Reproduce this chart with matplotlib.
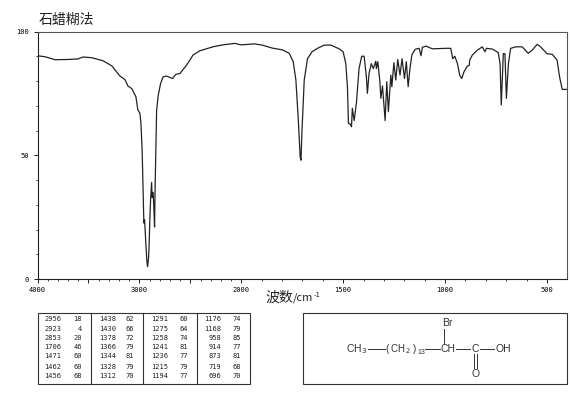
import matplotlib
matplotlib.use('Agg')
import matplotlib.pyplot as plt
from matplotlib.patches import Rectangle
import numpy as np

plt.rcParams['font.family'] = ['Noto Sans CJK SC', 'DejaVu Sans']

# spectrum
wavenumber = [4000, 3926, 3828, 3701, 3603, 3554, 3466, 3358, 3270, 3191, 3142, 3113, 3074, 3034, 3015, 2995,
              2985, 2973, 2969, 2956, 2949, 2943, 2936, 2926, 2920, 2910, 2904, 2897, 2890, 2880, 2875, 2865,
              2858, 2851, 2846, 2838, 2831, 2816, 2792, 2767, 2733, 2675, 2642, 2603, 2537, 2473, 2407, 2279,
              2181, 2063, 2003, 1936, 1897, 1848, 1799, 1765, 1745, 1732, 1720, 1711, 1707, 1702, 1691, 1675,
              1653, 1626, 1593, 1560, 1520, 1500, 1487, 1479, 1474, 1466, 1459, 1455, 1446, 1435, 1422, 1409,
              1397, 1386, 1381, 1373, 1362, 1352, 1340, 1337, 1330, 1320, 1315, 1307, 1294, 1286, 1278, 1266,
              1261, 1251, 1242, 1232, 1221, 1211, 1199, 1190, 1181, 1173, 1163, 1147, 1127, 1118, 1111, 1094,
              1062, 997, 972, 962, 952, 939, 928, 918, 907, 891, 881, 879, 866, 841, 817, 804,
              797, 768, 739, 730, 724, 714, 706, 699, 689, 678, 653, 621, 592, 572, 548, 531,
              499, 474, 450, 438, 425, 400]
transmittance = [90.2, 89.8, 88.6, 88.7, 88.9, 89.7, 89.4, 88.2, 86.1, 82, 80.6, 78, 76.9, 73.6, 68.3, 67,
                 63, 52, 45, 22.6, 24, 19, 13.7, 7, 5, 8.4, 14.4, 24.6, 32, 39, 33, 35,
                 29, 21, 36, 52, 68, 74, 79, 81.7, 82, 81, 82.7, 83, 86.4, 90.5, 92.2, 93.8,
                 94.6, 95.2, 94.6, 95, 94.5, 93.3, 92.6, 91.2, 87.8, 80.4, 64.2, 49.4, 48, 60, 80.4, 89,
                 91.8, 93.2, 94.5, 94.5, 93, 91.8, 87, 77.7, 62.9, 62.6, 61.5, 69, 64, 71, 85, 90,
                 90, 81.7, 75, 83, 87, 85, 88, 85, 87.8, 80, 73, 78, 64, 79.7, 67.6, 82.4,
                 77.7, 87.4, 80.4, 88.7, 82.4, 89, 81, 87.8, 77.7, 84.4, 90.5, 92.8, 93.2, 90.2, 93.6, 94.1,
                 93, 93.2, 93.2, 89, 90, 87, 82.4, 81, 83.7, 86, 86.3, 88.4, 90.5, 92.5, 93.8, 91.8,
                 93.2, 92.9, 91.5, 87, 70.3, 91.1, 91, 73, 87, 93.2, 93.8, 93.8, 91.2, 92.5, 94.8, 93.8,
                 91, 90.8, 88.4, 81.7, 76.6, 76.6]

x_major = [4000, 3500, 3000, 2500, 2000, 1500, 1000, 500]
x_labels = ['4000', '', '3000', '', '2000', '1500', '1000', '500']
y_major = [0, 50, 100]

# peak table, one list per column
peak_wn = [[2956, 2923, 2853, 1706, 1471, 1462, 1456],
           [1438, 1430, 1378, 1366, 1344, 1328, 1312],
           [1291, 1275, 1258, 1241, 1236, 1215, 1194],
           [1176, 1168, 958, 914, 873, 719, 696]]
peak_t = [[18, 4, 20, 46, 60, 60, 68],
          [62, 66, 72, 79, 81, 79, 70],
          [60, 64, 74, 81, 77, 79, 77],
          [74, 79, 85, 77, 81, 68, 70]]


def forward(x):
    x = np.asarray(x, dtype=float)
    return np.where(x >= 2000, x, 2000 - (2000 - x) * 2)


def inverse(y):
    y = np.asarray(y, dtype=float)
    return np.where(y >= 2000, y, 2000 - (2000 - y) / 2)


W, H = 570, 394
fig = plt.figure(figsize=(5.7, 3.94), dpi=100)
ax = fig.add_axes([37.5 / W, (H - 279) / H, (567.3 - 37.5) / W, (279 - 31.5) / H])
ax.set_xscale('function', functions=(forward, inverse))
ax.plot(wavenumber, transmittance, color='#222222', lw=0.9)
ax.set_xlim(4000, 400)
ax.set_ylim(0, 100)

ax.set_xticks(x_major)
ax.set_xticklabels(x_labels)
ax.set_xticks(np.arange(500, 4000, 100), minor=True)
ax.set_yticks(y_major)
ax.set_yticks(np.arange(0, 101, 10), minor=True)
ax.tick_params(axis='both', which='major', length=3, width=0.7, labelsize=5, pad=3, color='#222222')
ax.tick_params(axis='both', which='minor', length=1.2, width=0.6, color='#222222')
for s in ax.spines.values():
    s.set_linewidth(0.8)
    s.set_color('#222222')
ax.spines['top'].set_color('#555555')
ax.spines['right'].set_color('#555555')
for lab in ax.get_xticklabels() + ax.get_yticklabels():
    lab.set_family('DejaVu Sans Mono')

# everything outside the plot goes on a pixel overlay
ov = fig.add_axes([0, 0, 1, 1])
ov.set_xlim(0, W)
ov.set_ylim(H, 0)
ov.axis('off')

ov.text(39, 20, '石蜡糊法', fontsize=10, ha='left', va='center', color='#222222')
ov.text(265, 298, '波数', fontsize=10, ha='left', va='center', color='#222222')
ov.text(293, 298, '/cm', fontsize=8, ha='left', va='center', color='#222222')
ov.text(314, 295, '-1', family='DejaVu Sans', fontsize=5, ha='left', va='center', color='#222222')

# table
ov.add_patch(Rectangle((37.5, 312.5), 212, 71, fill=False, ec='#333333', lw=0.8))
for xd in [90.7, 143.3, 196.7]:
    ov.plot([xd, xd], [312.5, 383.5], color='#333333', lw=0.8)
row_y = [319.3, 328.7, 338, 347, 356.3, 366.7, 375.7]
col_wn_x = [61, 115.7, 168.3, 221]
col_t_x = [82, 134, 188.3, 240.7]
for c in range(4):
    for r in range(7):
        ov.text(col_wn_x[c], row_y[r], str(peak_wn[c][r]), family='DejaVu Sans Mono', fontsize=5,
                ha='right', va='center', color='#222222')
        ov.text(col_t_x[c], row_y[r], str(peak_t[c][r]), family='DejaVu Sans Mono', fontsize=5,
                ha='right', va='center', color='#222222')

# structure box
ov.add_patch(Rectangle((302.7, 312.5), 264.6, 71, fill=False, ec='#333333', lw=0.8))
sf = 'Liberation Sans'
ov.text(346.5, 349, 'CH$_3$', family=sf, fontsize=7.5, ha='left', va='center', color='#333333', math_fontfamily='custom')
ov.text(385, 349, '( CH$_2$ )', family=sf, fontsize=7, ha='left', va='center', color='#333333', math_fontfamily='custom')
ov.text(417, 353, '13', family=sf, fontsize=5, ha='left', va='center', color='#333333')
ov.text(440.5, 349, 'CH', family=sf, fontsize=7.5, ha='left', va='center', color='#333333')
ov.text(475.3, 349, 'C', family=sf, fontsize=7.5, ha='center', va='center', color='#333333')
ov.text(496, 349, 'OH', family=sf, fontsize=7.5, ha='left', va='center', color='#333333')
ov.text(447.5, 323.5, 'Br', family=sf, fontsize=7.5, ha='center', va='center', color='#333333')
ov.text(475.3, 374, 'O', family=sf, fontsize=7.5, ha='center', va='center', color='#333333')
for xs, ys in [((368, 385), (349, 349)), ((425, 440), (349, 349)), ((456, 470), (349, 349)),
               ((480, 494), (349, 349)), ((443.7, 443.7), (329, 344)),
               ((474, 474), (354, 368)), ((476.5, 476.5), (354, 368))]:
    ov.plot(xs, ys, color='#333333', lw=0.7)

fig.savefig('out.png', dpi=100)
